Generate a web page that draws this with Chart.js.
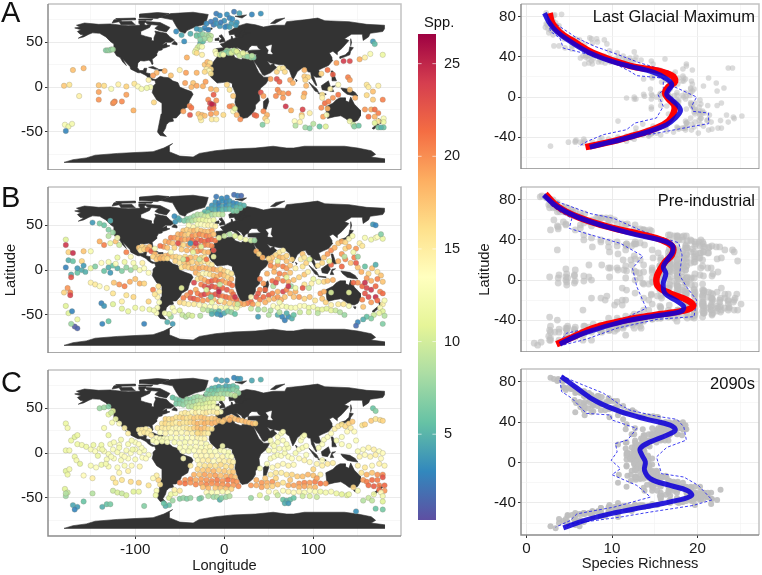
<!DOCTYPE html>
<html lang="en">
<head>
<meta charset="UTF-8">
<title>Species richness</title>
<style>
  body { margin: 0; background: #fff; font-family: "Liberation Sans", Arial, sans-serif; color: #111; }
  canvas { position: absolute; }
  .letter { position: absolute; left: 1px; font-size: 29px; line-height: 29px; }
  .label { position: absolute; font-size: 16.5px; line-height: 20px; white-space: nowrap; }
</style>
</head>
<body>
<canvas id="mapA"></canvas><canvas id="mapB"></canvas><canvas id="mapC"></canvas>
<canvas id="latA"></canvas><canvas id="latB"></canvas><canvas id="latC"></canvas>
<canvas id="colorbar"></canvas>
<div class="letter" style="top:-2px">A</div>
<div class="letter" style="top:183px">B</div>
<div class="letter" style="top:368px">C</div>
<div class="label" style="left:424px;top:12px;font-size:14.7px">Spp.</div>
<div class="label" style="right:7px;top:6px">Last Glacial Maximum</div>
<div class="label" style="right:7px;top:190px">Pre-industrial</div>
<div class="label" style="right:7px;top:373px">2090s</div>

<script src="https://cdn.jsdelivr.net/npm/chart.js@4/dist/chart.umd.min.js"></script>
<script>
// colour scale of the legend, low to high
const spectral = ['#5E4FA2','#3288BD','#66C2A5','#ABDDA4','#E6F598','#FFFFBF','#FEE08B','#FDAE61','#F46D43','#D53E4F','#9E0142'];
const sppRange = [0.37, 26.6];
const sppTicks = [5, 10, 15, 20, 25];

// land outlines, [lon, lat]
const northAmerica = [[-168,66],[-162,67],[-166,69],[-157,71.5],[-141,70],[-128,70.5],[-115,69],[-108,68.5],[-95,69],[-94,72.5],[-88,69],[-82,70],[-84,66.5],[-94,62],[-94,58.5],[-88,56.5],[-82,55],[-82,52],[-79,51.5],[-79,55],[-77,60],[-78,62.5],[-70,61],[-65,60],[-61,56],[-56,52.5],[-60,50],[-66,50],[-70,47],[-65,49],[-65,47],[-61,46],[-66,44],[-70,43],[-70,41.5],[-74,40.5],[-76,37],[-76,35],[-81,31],[-80,26],[-81,25],[-83,29],[-85,30],[-90,29],[-94,29.5],[-97,27],[-98,22],[-95,18.5],[-91,18.5],[-90,21],[-87,21],[-88,16],[-83.5,15],[-83.5,11],[-80,9],[-77,8.5],[-78,7.5],[-81,7.5],[-85,10],[-88,13],[-94,16],[-97,16],[-105,20],[-106,23],[-112,29],[-114,31],[-110,24],[-114,28],[-117,33],[-121,35],[-124,40],[-124,48],[-128,51],[-133,56],[-140,60],[-148,60.5],[-152,59],[-158,56],[-164,54.5],[-158,58],[-162,59],[-165,62],[-161,64]];
const southAmerica = [[-77,8.5],[-72,12],[-68,11],[-62,10.5],[-58,7],[-52,5],[-50,0],[-44,-2.5],[-37,-5],[-35,-8],[-39,-15],[-41,-22],[-48,-26],[-49,-29],[-54,-34.5],[-58,-34.5],[-57,-38],[-62,-39],[-65,-42],[-66,-46],[-69,-51],[-65,-55],[-72,-54],[-75,-50],[-73,-40],[-71,-30],[-70,-18],[-76,-14],[-81,-6],[-80,-2],[-80,1],[-77,4],[-78,7.5]];
const afroEurasia = [[-6,36],[-10,31],[-16,23],[-17,15],[-15,11],[-8,4.5],[-3,5],[4,6],[9,4],[9.5,0],[13,-8],[12,-17],[15,-27],[18,-33],[20,-35],[26,-34],[32,-29],[35,-24],[35,-20],[40,-15],[39,-6],[41,-1],[47,4],[51,11],[44,11],[43,12.5],[39,16],[36,22],[33.5,28],[32.5,30],[34,28],[39,21],[43,14],[45,12.8],[52,16],[59,22],[56.5,24],[56,26.5],[51.5,24.5],[48,29.5],[52,27],[57,26],[62,25],[67,25],[70,21],[73,19],[77,8],[80,13],[82,17],[87,21],[91,22],[94,17],[97,16.5],[98,10],[103,1.5],[104,2],[100,13],[103,11],[109,11],[106,19],[110,21],[117,24],[122,30],[121,33],[118,38],[122,40],[127,36],[127,39],[132,43],[140,52],[135,54],[143,59],[155,59],[156,52],[162,56],[164,60],[178,62],[180,65],[180,69],[160,70],[140,73],[113,74],[105,77],[90,75],[70,73],[68,69],[55,69],[44,67],[35,69.5],[25,71],[15,68],[5,62],[6,58],[11,59],[13,55.5],[20,55],[22,59],[30,60],[22,61],[24,65.5],[18,62],[17,57],[10,54],[8.5,57],[8,54],[2,51],[-1,49],[-4.5,48],[-1,44],[-9,43],[-9,37],[-6,36.5],[-2,37],[3,42],[8,44],[12,42],[16,38],[18,40],[13,45],[19,42],[22,37],[24,40],[27,41],[28,44],[31,46.5],[37,46],[38,44],[41,41.5],[31,41.2],[27,40.5],[27,37],[36,36.5],[35,32],[32,31],[25,32],[20,32],[19,30.5],[12,33],[10,37],[0,36]];
const greenland = [[-73,78],[-60,82],[-35,83.5],[-18,81],[-20,74],[-22,70],[-33,67],[-42,63],[-44,60],[-50,62],[-54,68],[-58,75]];
const australia = [[114,-22],[122,-18],[126,-14],[130,-12],[136,-12],[136,-15],[140,-17],[142,-11],[146,-19],[153,-26],[153,-32],[150,-37],[146,-39],[140,-38],[136,-35],[131,-32],[124,-33],[116,-35],[115,-31]];
const antarctica = [[-180,-84],[-170,-81],[-155,-79],[-145,-76],[-120,-74],[-100,-73],[-80,-72],[-68,-68],[-58,-63],[-62,-66],[-62,-72],[-50,-77],[-35,-78],[-28,-74],[-10,-71],[10,-69],[35,-68],[55,-66],[70,-68],[78,-68],[90,-66],[110,-66],[135,-66],[150,-68],[165,-71],[170,-75],[165,-78],[180,-80],[180,-84]];
const islands = [
  [[-90,73.5],[-72,72],[-61,66.5],[-65,61.5],[-74,63.5],[-78,65.5],[-74,69],[-86,70]],
  [[-118,73],[-104,73.5],[-100,69.5],[-116,69.5]],
  [[-95,77.5],[-75,76.5],[-62,82],[-75,83.2],[-95,81.5]],
  [[-126,71.5],[-115,73.5],[-118,76],[-124,75]],
  [[-96,74],[-88,74],[-90,70.5],[-96,71]],
  [[-96,76],[-80,76],[-82,74.5],[-96,74.8]],
  [[-122,76.5],[-100,77],[-100,75],[-118,74.5]],
  [[-59,48],[-53,47],[-53,49],[-56,51.5]],
  [[-85,22],[-80,23],[-74,20],[-78,20]],
  [[-74,19.5],[-69,19.5],[-69,18.2],[-74,18]],
  [[-5,50],[1,51],[0,54],[-3,58.5],[-6,57],[-3,54],[-5,52]],
  [[-10,52],[-6,52],[-6,55],[-10,54]],
  [[-24,65],[-14,66],[-14,64.5],[-22,63.5]],
  [[12,79],[25,80.5],[20,77]],
  [[52,71],[57,71],[68,77],[58,75.5]],
  [[44,-16],[49,-12],[50,-16],[47,-25],[44,-25]],
  [[80,9],[82,7],[81,6]],
  [[95,5.5],[104,-2],[106,-6],[102,-4.5]],
  [[105,-6.5],[114,-7.5],[114,-8.5],[106,-7.5]],
  [[109,1.5],[117,7],[119,1],[116,-4],[110,-3]],
  [[119,-5],[121,1],[125,1.5],[121,-1],[123,-5]],
  [[131,-1],[141,-2.5],[147,-6],[150,-10],[143,-9],[138,-8],[133,-4]],
  [[120,18],[122,18],[124,12],[126,7],[122,7],[121,13]],
  [[130,32],[136,34],[141,36],[142,40],[145,44],[141,45],[140,40],[136,36],[130,34]],
  [[142,54],[143,50],[142,46]],
  [[145,-41],[148,-41],[147,-43.5]],
  [[173,-35],[178,-38],[175,-41]],
  [[172,-41],[174,-42],[168,-47],[166,-46]]
];
const caspian = [[47,45],[53,47],[52,40],[54,37],[49,37.5],[50,41]];

// sampling sites, [lon, lat, species]
const pointsA = [
[-9,82,2.4],[-5,80,2.9],[3,81,3.2],[11,84,2.3],[17,82.5,4.1],[31,81,2.8],[41,82,3.3],[6,77,2.6],[0,74,3.4],[-10,75,2.7],[-20,71,3.1],[-12,69.5,2.2],[-5,68,3.6],[3,68,2.5],[8,71,3.8],[14,72,3.3],[-22,66,2.9],[-27,64,4.2],[-31,65,3.7],[-54,62,3.1],[-48,58,4.4],[-38,59.5,4.6],[-45,51,3.2],[-27,49,4.5],[-24,51,5.3],[-31,58,5.4],[-18,64,2.6],[-9,71,3.5],[1,67,2.8],[6,67,3.9],[-4,72,2.4],[9,76,3.1],[13,69,3.7],[-15,73,2.3],
[-31,57,6.2],[-27,58,5.7],[-24,59,7.4],[-20,58,8.2],[-17,58,7.6],[-15,57,9.1],[-18,55,8.3],[-22,54,7.7],[-27,53,6.8],[-16,53,9.4],[-30,44,10.6],[-28,46,9.7],[-25,45,12.6],[-32,41,11.3],[-33,39,12.1],
[-133,41,6.6],[-131,41,7.2],[-129,41,7.5],[-127,42,6.9],[-125,42,8.1],
[-10,40,12.8],[-9,37,13.4],[-5,36,10.7],[-3,37,8.6],[0,38,7.8],[3,41,8.3],[6,40,6.9],[9,40,9.7],[12,39,8.8],[15,38,9.4],[18,37,11.2],[20,36,7.6],[23,35,8.4],[25,36,12.3],[28,34,9.2],[30,33,7.7],[33,33,6.8],
[2,39,6.3],[5,38,7.2],[8,38,10.4],[11,41,9.1],[14,40,10.8],[17,35,9.8],[21,38,11.7],[26,34,7.3],[31,35,8.8],[-1,36,12.2],
[-42,33,18.7],[-31,38,16.2],[-25,36,14.6],[-22,25,17.4],[-19,28,18.3],[-16,27,15.6],[-18,23,17.2],[-15,20,16.4],[-20,20,14.8],[-17,18,13.7],[-22,17,16.3],[-15,15,15.8],[-31,16,18.4],[-50,19,14.7],[-43,16,19.3],[-67,18,18.6],[-76,16,18.2],[-80,13,19.4],[-60,13,17.7],[-85,8,14.5],[-83,0,12.6],[-44,4.5,19.2],[-35,4.5,17.6],[-37,0,18.4],[-31,1.5,19.1],[-24,1,18.7],[-21,6,19.4],[-15,-2,18.6],[-9,-3,17.8],[-12,-8.5,22.3],[3,2.6,16.6],[6,-3,15.7],[10,-10,17.3],[9,-21,19.2],[6,-21.5,20.4],[10,-27,13.6],[12,-24,10.7],[14,-31,18.2],[18,-36,20.1],
[-18,-14,20.3],[-9,-15,19.6],[-16,-18,23.4],[-12,-20,24.2],[-16,-23.5,22.7],[-12,-23.5,21.1],[-14,-19,25.2],[-38.5,-31,22.8],[-29,-30,17.6],[-25,-31,18.4],[-22,-32,17.8],[-15,-30,19.6],[-9,-29,18.7],[-1,-31,16.3],[-26,-37,14.6],[-14,-36,15.2],[-9,-36,14.7],[-46,-27,19.3],[-39,-21,20.4],[-37,-23,21.2],[-27,-34,16.4],
[41,-6,22.8],[44,-10,19.4],[44,-27,20.3],[48,-31,18.6],[46,-35,17.2],[48,-38,14.3],[43,-42,6.7],[34,-31,22.4],[36,-32,21.7],[52,9,19.2],[59,9,23.1],[62,6,22.3],[59,17,16.8],[62,21,14.7],[66,21,15.6],[68,17,16.3],[74,8,19.2],[77,4.5,18.6],[60,-3,20.3],[62,-6,19.7],[66,-7,19.2],[72,-7,20.4],[58,-10,20.2],[66,-12,19.6],[69,-21.5,24.3],[75,-26,18.7],[88,-25,23.6],[87,-31,17.7],[96,-29,14.8],[87,-33,14.2],[79,-38,13.6],[85,-39,14.3],[80,-43,8.6],[91,-45,7.7],[96,-46,6.6],[100,-41,8.8],[107,-44,5.7],[114,-44,10.6],[90,12,17.3],[94,11,16.6],[90,19,18.4],[91,8,16.8],[92,1.5,18.2],[90,-7,19.3],[89,-11,17.6],
[109,-23,20.2],[113,-18,21.4],[117,-16,20.6],[122,-12,19.7],[128,-8.5,21.2],[110,-8.5,15.7],[110,-12,14.6],[111,-33,19.3],[115,-31,12.8],[116,-24,18.6],[109,15,16.8],[116,19,21.3],[122,14,22.2],[126,27,19.4],[134,29,24.1],[141,29,23.6],[152,31,18.7],[158,33,14.8],[164,37,12.7],[178,36,11.6],[167,51,3.8],[169,48,5.3],
[139,11,20.7],[141,8,19.6],[128,2.6,13.7],[119,-2,14.6],[141,-3,17.6],[160,2.6,15.6],[173,1.5,14.7],[162,0,15.2],[167,-5,17.8],[147,-12,18.7],[160,-9,16.4],[167,-14,17.2],[178,-14,20.6],[158,-25,19.7],[165,-25,18.8],[169,-25,21.6],[173,-29,20.7],[162,-33,21.3],[169,-33,18.6],[173,-38,15.7],[179,-35,12.8],[179,-39,11.7],[141,-38,12.3],[145,-42,9.6],[146,-44,6.8],[151,-43,5.8],[169,-40,10.7],[173,-45,6.3],[179,-45,5.7],[176,-45,4.9],
[-180,1.5,17.3],[-174,2.6,15.7],[-163,-10,14.6],[-170,19,17.8],[-158,21,18.3],[-141,2,17.6],[-141,-5.5,19.2],[-141,-14,19.8],[-135,1.5,16.2],[-127,-2,12.8],[-119,3,14.6],[-110,0.7,16.8],[-110,-8.5,19.3],[-125,-18,20.3],[-123,-16,20.8],[-124,-17,19.7],[-115,-16,20.2],[-102,-26,18.7],[-101,3.7,15.7],[-97,0.7,13.8],[-93,-2,12.6],[-87,-1,11.7],[-79,-17,16.6],[-179,-42,12.6],[-175,-44,11.7],[-171,-41,12.3],[-178,-49,2.8]
];
const pointsB = [
[-9,82,2.3],[-3,80,3.1],[3,81,2.7],[11,84,1.8],[15,83,2.4],[19,83,1.6],[-10,76,3.3],[-6,75,2.6],[-2,77,3.4],[2,76,2.9],[6,77,3.6],[10,75,2.8],[14,74,3.2],[18,73,4.4],[22,72,4.8],[-14,72,3.4],[-10,71,3.8],[-6,72,2.7],[-2,71,4.3],[2,72,3.1],[6,72,4.2],[10,71,3.7],[14,70,5.2],[18,69,5.7],[-18,68,3.9],[-14,68,4.4],[-10,67,4.8],[-6,68,3.6],[-2,67,5.3],[2,68,4.6],[6,68,5.4],[10,66,6.2],[14,66,6.8],[-22,65,5.3],[-18,64,6.4],
[-42,57,6.7],[-38,58,7.3],[-34,60,7.7],[-30,62,8.4],[-26,62,8.8],[-22,60,9.6],[-18,60,10.3],[-14,62,8.2],[-10,62,9.3],[-6,62,9.8],[-2,62,8.7],[-50,56,4.6],[-45,55,6.3],[-40,54,7.6],[-36,55,8.7],[-32,56,9.6],[-28,56,10.6],[-24,56,11.2],[-20,55,11.6],[-16,55,12.7],[-12,56,11.8],[-55,54,3.6],[-52,58,4.3],[-56,60,3.2],[-30,51,12.6],[-26,51,13.3],[-22,50,13.7],[-18,50,14.4],[-14,50,13.8],[-10,49,14.6],[-35,48,14.2],[-40,50,13.6],
[-46,44,17.6],[-42,45,16.8],[-38,44,17.3],[-34,44,18.4],[-30,45,16.6],[-26,44,17.7],[-22,43,18.2],[-18,43,17.6],[-14,44,18.7],[-52,40,18.3],[-48,40,19.2],[-44,39,17.6],[-40,40,16.7],[-36,38,20.2],[-32,39,18.8],[-28,40,20.4],[-24,39,19.3],[-20,38,20.6],[-16,38,19.7],[-12,40,17.8],[-60,36,20.7],[-56,36,19.8],[-52,35,18.7],[-48,34,20.3],[-44,34,18.6],[-40,34,19.7],[-36,33,21.4],[-30,34,20.6],[-26,33,22.2],[-22,32,21.3],[-18,33,22.6],[-14,34,21.7],[-10,33,20.8],
[-66,32,18.6],[-62,31,19.4],[-58,30,17.7],[-50,29,18.3],[-46,28,16.6],[-40,28,19.2],[-34,27,20.4],[-28,27,21.3],[-22,28,20.7],[-18,28,19.6],[-14,27,20.3],[-68,26,19.8],[-72,27,21.2],[-64,25,17.6],[-56,25,16.8],[-48,23,17.2],[-42,22,18.3],[-36,22,18.8],[-30,21,19.7],[-26,22,20.2],[-22,20,17.6],[-18,20,18.4],
[-96,25,17.6],[-92,26,16.8],[-88,25,17.3],[-84,26,18.2],[-94,22,15.7],[-90,23,16.8],[-86,23,19.6],[-82,21,22.3],[-78,18,18.7],[-74,15,17.6],[-70,15,18.3],[-66,16,17.8],[-62,17,19.2],[-80,15,16.7],[-76,12,17.3],[-72,13,18.4],[-68,13,17.7],[-64,13,16.6],[-58,15,17.2],[-54,15,16.7],[-50,14,15.8],[-44,15,16.4],[-38,14,18.2],[-32,14,17.6],[-26,14,16.8],[-22,14,15.6],
[-55,10,16.7],[-50,8,15.6],[-45,9,17.3],[-40,8,18.2],[-36,9,16.7],[-30,8,17.6],[-26,9,16.3],[-22,10,14.7],[-18,8,15.8],[-14,6,15.2],[-48,3,15.7],[-44,4,17.6],[-40,3,16.8],[-36,2,18.7],[-32,3,17.7],[-28,2,19.3],[-24,3,18.2],[-20,2,18.7],[-16,1,17.8],[-12,1,19.2],[-8,0,18.3],[-4,1,16.6],[0,-1,17.3],[4,-2,14.8],[8,-4,15.7],
[-32,-3,18.6],[-28,-5,16.8],[-24,-4,13.7],[-20,-4,14.3],[-16,-5,15.7],[-12,-6,17.6],[-8,-7,18.2],[-4,-5,19.3],[0,-6,17.7],[4,-8,16.6],[8,-10,18.3],[-30,-10,15.6],[-26,-9,17.7],[-22,-11,18.6],[-18,-13,20.7],[-14,-12,22.3],[-10,-11,20.8],[-6,-13,21.6],[-2,-12,19.7],[2,-14,18.6],[6,-15,20.6],[9,-17,21.2],[-26,-16,20.6],[-22,-18,22.7],[-18,-20,24.3],[-14,-18,23.2],[-10,-19,21.7],[-6,-21,23.6],[-2,-20,21.8],[3,-22,22.6],[8,-24,19.7],[10,-27,21.6],[-32,-22,18.7],[-30,-26,20.6],[-26,-28,22.3],[-22,-27,23.7],[-18,-26,20.8],[-14,-28,21.3],[-10,-27,22.6],[-6,-28,23.2],[-2,-29,20.7],[2,-30,21.6],[6,-31,20.8],[10,-32,19.7],[14,-33,21.8],
[-38,-25,21.6],[-42,-28,19.7],[-46,-31,20.6],[-38,-31,22.3],[-34,-32,22.7],[-30,-33,20.8],[-24,-34,19.6],[-18,-33,19.7],[-12,-33,17.6],[-6,-35,19.7],[0,-36,17.8],[6,-37,16.6],[12,-38,17.3],[18,-39,14.7],
[-50,-36,16.7],[-45,-37,15.6],[-40,-38,14.8],[-34,-38,15.3],[-28,-39,13.8],[-22,-40,12.7],[-16,-41,13.4],[-10,-41,13.7],[-4,-42,12.6],[2,-42,11.8],[8,-43,13.2],[14,-42,11.7],[-24,-44,9.6],[-18,-45,8.7],[-14,-46,6.8],[-10,-47,5.7],[-6,-46,4.8],[-4,-50,2.7],[0,-48,4.6],[4,-46,6.7],[8,-47,7.3],[12,-49,5.6],[-14,-49,4.7],[-8,-49,3.8],[-27,-51,8.7],
[-50,-45,10.7],[-47,-50,9.6],[-43,-52,8.8],[-40,-50,9.7],[-36,-51,10.3],[-60,-52,7.6],[-62,-49,10.6],[-58,-42,12.7],[-56,-46,13.3],[-64,-58,4.7],[-58,-60,3.8],[-67,-48,12.6],[-73,-36,13.2],[-75,-30,14.3],[-73,-24,14.7],[-74,-18,15.8],[-75,-42,12.8],[-76,-48,13.4],
[40,-10,20.7],[44,-15,19.6],[48,-4,18.7],[46,-22,21.7],[40,-22,20.6],[38,-26,22.3],[36,-30,22.8],[30,-35,21.7],[26,-37,20.6],[22,-38,18.8],[18,-37,19.3],[32,-38,19.6],[40,-33,20.7],[44,-30,21.6],[50,-28,22.4],[54,-26,20.7],[50,-33,17.6],[56,-32,18.7],[46,-36,18.6],[38,-38,15.7],[60,-30,19.6],[64,-33,18.8],[68,-30,17.7],[60,-24,18.6],[66,-24,23.6],[70,-22,20.7],[74,-26,18.6],[78,-30,17.7],[84,-30,19.6],[90,-32,16.8],[96,-30,17.7],[102,-34,15.6],[80,-24,18.7],
[52,10,18.6],[54,14,17.7],[58,17,16.6],[62,20,15.7],[66,22,14.8],[62,14,18.7],[66,14,17.6],[70,10,17.8],[60,6,19.7],[56,3,18.8],[52,5,20.3],[66,4,20.7],[70,2,19.6],[74,5,17.7],[76,12,16.6],[70,16,16.8],[56,-2,18.7],[62,-4,20.6],[68,-5,19.7],[74,-3,17.6],[80,2,14.7],[60,-10,19.6],[66,-12,20.7],[54,-12,21.3],[72,-13,18.6],[78,-11,17.7],[84,-8,16.7],[90,-5,17.6],[88,4,15.7],[92,8,16.8],[86,12,14.7],[88,18,17.6],[90,14,15.6],[94,-2,14.7],[100,-10,11.7],[106,-13,12.7],[112,-13,16.6],[116,-12,17.8],[122,-11,18.6],[98,-15,14.6],[90,-16,15.7],
[55,-40,13.6],[60,-42,12.7],[65,-40,13.3],[70,-41,11.8],[75,-42,12.4],[80,-42,12.7],[85,-40,13.6],[90,-40,12.8],[95,-42,11.6],[100,-41,12.7],[105,-44,10.6],[110,-44,11.3],[115,-43,10.7],[120,-45,11.2],[125,-45,9.7],[130,-47,8.6],[52,-45,8.7],[45,-44,9.3],[38,-44,7.8],[30,-43,9.6],[60,-50,4.7],[65,-52,2.8],[68,-56,2.6],[72,-52,3.3],[70,-48,4.8],[76,-54,4.7],[78,-50,5.6],[62,-47,8.7],[85,-47,9.6],[95,-47,10.3],[105,-48,8.8],[135,-50,7.6],[38,-52,3.8],[50,-50,8.6],
[108,-26,19.6],[112,-24,18.7],[110,-32,17.6],[114,-36,16.8],[120,-39,14.7],[128,-38,15.3],[134,-38,15.7],[140,-40,12.8],[105,5,15.7],[110,8,16.6],[112,14,17.7],[116,18,19.6],[120,22,20.3],[124,25,18.7],[128,30,17.6],[132,32,18.8],[136,31,16.7],[140,35,13.8],[144,38,12.7],[136,24,16.6],[140,26,18.7],[132,18,19.7],[136,12,20.4],[128,10,18.6],[142,8,17.7],[146,14,20.6],[148,24,19.7],[152,30,14.7],[155,27,15.4],[158,36,12.6],[165,34,11.7],[170,36,12.8],[178,35,11.6],[172,37,13.3],[167,51,3.7],[170,50,2.8],[176,40,6.7],
[150,3,17.6],[154,-2,18.7],[158,4,5.6],[162,-4,16.7],[166,2,17.8],[170,6,4.7],[172,-2,15.6],[176,-6,17.7],[160,-9,19.6],[165,-12,18.7],[172,-10,20.6],[178,-13,17.6],[150,-14,19.7],[155,-18,21.6],[145,-14,21.8],[160,-20,23.6],[165,-22,24.2],[170,-18,21.7],[175,-24,20.6],[158,-26,22.7],[162,-30,23.6],[170,-30,24.7],[178,-26,21.6],[155,-33,20.7],[165,-36,19.6],[172,-34,21.7],[178,-38,14.7],[180,-34,12.6],[156,-41,17.6],[175,-42,12.7],[178,-46,10.6],[174,-48,11.3],[168,-50,9.7],[160,-52,5.6],[156,-55,4.7],[150,-58,2.8],[148,-62,1.7],[180,-51,8.7],[178,-60,6.6],[165,-54,6.7],
[-178,34,10.6],[-178,28,24.3],[-175,20,16.7],[-170,19,24.7],[-178,3,2.7],[-175,11,4.6],[-170,10,5.7],[-160,10,16.6],[-180,-25,16.7],[-176,-20,19.7],[-173,-25,20.6],[-173,-28,23.7],[-172,-5,4.7],[-165,-3,5.6],[-172,-8,22.8],[-165,2,3.7],[-160,0,4.6],[-158,5,3.8],[-156,-2,4.7],[-150,2,11.6],[-145,4,6.7],[-135,-1,5.7],[-130,3,4.6],[-128,-3,3.7],[-125,5,5.6],[-120,2,4.8],[-115,-1,6.7],[-110,3,7.3],[-105,0,7.6],[-100,3,9.7],[-95,0,12.7],[-90,2,13.3],[-85,-3,13.6],[-138,8,13.7],[-130,9,12.6],[-122,7,13.2],[-112,9,11.7],[-102,8,12.8],[-92,8,14.7],
[-150,-14,14.6],[-145,-16,15.3],[-140,-18,13.7],[-132,-20,14.3],[-124,-14,17.6],[-118,-16,19.7],[-112,-18,20.6],[-106,-13,18.7],[-100,-10,17.6],[-95,-15,18.7],[-90,-15,16.7],[-125,-26,15.6],[-110,-28,15.7],[-102,-30,16.6],[-115,-35,14.7],[-85,-35,16.7],[-80,-22,20.6],[-78,-27,15.7],
[-178,-40,10.7],[-175,-48,10.6],[-171,-46,2.8],[-165,-55,11.6],[-168,-63,0.9],[-165,-65,1.3],[-172,-60,7.6],[-138,-37,2.7],[-135,-40,3.6],[-137,-60,2.8],[-130,-57,5.7],[-125,-38,10.6],[-115,-43,10.7],[-108,-46,11.3],[-100,-42,11.6],[-90,-60,2.7],[-92,-43,12.3],[-84,-44,11.7],[-79,-45,12.4],
[-135,50,5.7],[-128,55,4.6],[-140,52,6.3],[-148,53,3.7],[-130,45,6.7],[-125,42,7.6],[-130,38,8.7],[-122,32,17.6],[-118,28,9.7],[-120,36,12.7],[-128,30,11.6],[-135,28,20.7],[-110,20,20.6],[-105,15,13.7],[-120,14,11.6],[-140,32,18.7],[-150,21,12.7],[-158,21,17.6],
[-6,36,11.7],[0,38,9.6],[6,40,8.7],[12,38,10.6],[18,36,11.7],[24,34,12.3],[30,33,9.6],[34,33,7.7],[36,21,18.6],[39,18,16.8],[43,14,18.7],[50,13,16.6],
[-38,30,3.6],[-28,12,9.6],[-15,-30,6.6],[15,-38,9.6],[55,-18,8.7],[75,-18,7.6],[95,-20,9.2],[135,15,8.8],[150,15,7.3],[-20,-22,10.6],[-5,-16,9.4],[60,10,10.7],[80,-20,11.6],[-35,20,11.3],[-12,15,12.3],[120,-25,10.3],[140,-25,11.2],
[-52,30,23.2],[-32,30,24.1],[-12,22,22.8],[-42,12,21.6],[-20,12,21.2],[-34,-14,23.6],[-6,-24,25.1],[12,-30,24.3],[58,-14,23.2],[72,-18,24.4],[88,-20,22.6],[132,4,21.7],[148,8,22.4],[158,-14,24.6],[120,6,21.8],[-46,12,9.8],[-26,26,10.7],[-48,-20,11.2],[-14,-36,11.6],[62,-36,12.4],[96,12,10.6],[118,10,11.4],[145,20,12.2],[-78,24,12.6],[-4,-34,13.2],[30,-30,13.7],[70,-8,11.2],[-60,20,13.3]
];
const pointsC = [
[-9,82,3.8],[-3,81,4.2],[3,81,3.6],[11,84,2.8],[15,83,3.2],[18,83,3.7],[31,81,4.3],[41,82,4.6],[-14,72,4.6],[-10,73,5.3],[-6,74,4.4],[-2,73,5.2],[2,75,4.3],[6,74,4.8],[10,75,5.4],[14,73,5.7],[-18,70,5.8],[-14,69,6.3],[-10,69,5.7],[-6,70,6.4],[-2,70,6.8],[2,70,6.2],[6,70,5.9],[10,71,6.7],[14,69,7.3],[16,67,7.6],[-20,66,6.7],[-16,65,7.3],[-12,66,6.8],[-8,65,7.7],[-4,66,8.3],[0,66,7.6],[4,66,8.4],[8,65,8.8],[12,64,9.6],
[-58,62,5.6],[-54,60,6.2],[-50,59,5.8],[-46,58,6.7],[-42,60,7.3],[-38,60,6.8],[-34,62,7.4],[-30,63,7.7],[-26,62,8.3],[-54,55,6.3],[-50,55,6.8],[-46,54,7.2],[-42,56,7.7],[-38,56,8.3],[-34,57,7.8],[-30,58,8.7],[-26,58,9.2],[-22,60,8.6],[-18,60,9.3],[-14,61,9.7],[-10,61,10.2],[-6,61,9.8],[-2,61,10.6],[-40,52,8.7],[-36,52,9.2],[-32,53,9.7],[-28,54,10.3],[-24,54,9.8],[-20,55,10.4],[-16,56,10.7],[-12,56,11.3],[-32,50,10.8],[-28,50,11.3],[-24,50,11.7],[-20,51,12.3],[-16,51,11.8],[-12,52,12.4],[-8,50,12.7],[-4,46,13.2],
[-48,44,14.7],[-44,45,15.3],[-40,44,14.8],[-36,46,13.8],[-32,45,15.2],[-28,46,13.7],[-24,45,14.6],[-20,45,15.4],[-16,46,14.3],[-12,46,14.8],[-8,45,15.3],[-66,38,16.6],[-62,38,15.8],[-58,38,16.7],[-54,40,15.7],[-50,40,16.3],[-46,39,16.8],[-42,39,15.7],[-38,40,16.2],[-34,39,17.3],[-30,40,16.7],[-26,40,17.4],[-22,39,17.8],[-18,38,16.8],[-14,39,17.2],[-10,38,17.6],[-70,33,15.7],[-66,33,16.4],[-62,32,15.2],[-58,33,15.8],[-54,34,14.7],[-50,33,16.3],[-46,34,15.4],[-42,34,15.7],[-38,34,16.4],[-34,34,17.2],[-30,33,18.3],[-26,34,17.6],[-22,33,18.7],[-18,34,17.8],[-14,33,18.6],[-10,34,18.3],
[-6,36,17.7],[0,37,18.2],[4,39,17.6],[8,40,18.3],[12,38,17.8],[16,37,18.4],[20,36,17.6],[24,35,18.2],[28,34,17.7],[32,33,18.3],[35,33,16.8],[-2,35,17.2],[6,37,18.6],
[-75,28,14.7],[-70,28,15.3],[-66,27,14.8],[-62,28,15.2],[-58,27,13.7],[-54,28,14.3],[-50,27,13.8],[-46,28,14.6],[-42,28,15.3],[-38,27,15.7],[-34,28,16.8],[-30,28,17.7],[-26,27,18.2],[-22,28,17.6],[-18,27,16.7],[-14,27,15.8],[-72,23,13.6],[-66,22,14.3],[-60,23,13.7],[-54,22,14.2],[-48,23,13.8],[-42,22,14.4],[-36,22,14.7],[-30,23,15.8],[-26,22,16.6],[-22,22,15.7],[-18,22,14.8],
[-96,26,14.7],[-92,26,15.3],[-88,27,14.8],[-84,25,15.2],[-94,22,14.6],[-90,23,15.4],[-86,22,14.7],[-82,20,15.2],[-76,17,13.7],[-72,16,13.2],[-68,16,12.8],[-64,16,13.3],[-60,17,12.7],[-54,17,13.3],[-48,17,12.8],[-42,17,13.4],[-36,17,13.7],[-30,17,14.3],[-26,16,13.8],[-22,16,14.4],[-80,14,12.7],[-76,12,13.3],[-70,13,12.6],[-64,12,13.2],[-56,12,12.8],[-50,11,13.3],[-44,12,12.6],[-38,12,13.7],[-32,12,13.2],[-26,11,13.8],[-20,10,12.7],
[-50,6,12.8],[-44,7,13.3],[-38,6,12.6],[-32,7,13.7],[-26,6,12.8],[-20,6,13.6],[-16,7,14.2],[-46,2,13.2],[-40,2,12.7],[-34,3,13.4],[-28,2,13.8],[-22,2,14.3],[-16,2,12.8],[-10,2,13.2],[-4,3,12.7],[0,2,13.4],[5,1,12.6],[-32,-3,13.7],[-26,-3,14.2],[-20,-3,13.8],[-14,-3,14.4],[-8,-3,13.7],[-2,-4,14.3],[4,-3,12.8],[8,-4,13.6],[-30,-8,13.8],[-24,-8,14.7],[-18,-8,15.2],[-12,-9,13.7],[-6,-8,14.4],[0,-9,14.7],[6,-9,15.3],[10,-10,14.6],[-28,-13,14.7],[-22,-14,15.6],[-16,-14,16.2],[-10,-14,15.7],[-4,-13,16.3],[2,-15,15.8],[8,-15,16.4],[-30,-18,16.7],[-24,-19,17.2],[-18,-19,17.7],[-12,-20,18.3],[-6,-19,16.8],[0,-20,17.3],[6,-21,16.7],[10,-21,17.4],
[-34,-24,18.6],[-28,-24,17.7],[-22,-24,19.2],[-16,-25,18.7],[-10,-25,19.3],[-4,-25,17.8],[2,-26,18.6],[8,-26,19.2],[12,-27,17.7],[-44,-30,19.7],[-38,-29,20.3],[-32,-30,18.8],[-26,-29,19.3],[-20,-30,19.7],[-14,-31,20.3],[-8,-30,20.7],[-2,-31,19.8],[4,-30,21.2],[10,-31,20.4],[14,-32,19.7],[-50,-33,20.7],[-44,-34,21.2],[-38,-33,19.8],[-32,-35,20.3],[-26,-34,19.7],[-20,-35,20.4],[-14,-34,19.8],[-8,-35,20.3],[-2,-35,19.7],[4,-36,20.4],[10,-36,19.6],[16,-37,20.3],[-24,-38,17.7],[-18,-39,18.3],[-10,-39,17.6],[-4,-39,18.2],[2,-40,17.8],[8,-40,16.8],
[-20,-44,13.7],[-14,-44,12.8],[-8,-44,13.3],[-2,-43,12.7],[4,-44,13.4],[-18,-48,8.7],[-12,-49,7.8],[-8,-49,8.3],[-5,-52,4.8],[-3,-50,6.7],[2,-49,7.7],[6,-48,8.4],[-26,-50,6.7],[-28,-51,6.2],[-50,-51,6.8],[-46,-50,7.3],[-42,-51,6.6],[-38,-50,7.4],[-62,-50,10.7],[-60,-46,11.6],[-55,-45,12.3],[-56,-41,14.7],[-50,-42,15.3],[-62,-58,5.7],[-66,-59,4.8],[-58,-53,7.7],[-68,-56,5.6],[-72,-35,15.7],[-74,-30,16.6],[-76,-25,14.8],[-76,-42,12.7],[-77,-47,11.8],
[36,-30,18.7],[42,-33,19.6],[48,-33,18.8],[54,-32,19.7],[60,-35,17.6],[66,-33,15.8],[30,-36,19.7],[36,-36,18.8],[42,-38,19.3],[48,-37,17.7],[54,-37,16.8],[72,-36,18.7],[78,-36,19.2],[84,-34,19.7],[90,-33,20.3],[96,-33,19.6],[102,-32,20.7],[108,-34,21.2],[114,-34,19.8],[84,-38,18.7],[90,-37,19.2],[96,-38,17.8],[102,-38,18.3],
[40,-17,12.8],[48,-12,13.3],[52,-6,12.7],[56,-4,13.2],[60,-2,12.6],[64,-3,13.3],[68,0,12.8],[72,-4,13.4],[54,-16,13.7],[60,-14,14.3],[66,-12,13.8],[72,-14,14.2],[78,-13,13.7],[52,-24,14.7],[58,-22,15.3],[64,-22,14.8],[70,-24,15.7],[76,-24,16.6],[82,-26,17.2],[88,-26,17.8],[94,-24,18.2],[100,-25,17.7],[50,3,12.7],[56,3,13.3],[62,5,12.8],[68,5,13.2],[72,6,12.6],[54,10,13.3],[60,12,12.7],[66,14,13.4],[70,10,12.8],[60,18,13.3],[64,22,12.7],[66,24,13.4],[52,14,12.8],[84,4,13.2],[88,6,12.7],[92,8,13.4],[86,14,12.8],[88,18,13.3],[90,20,12.7],[84,-6,13.7],[90,-8,14.3],[96,-10,13.8],[104,-12,14.4],[80,0,12.6],[92,-2,13.2],[110,-14,14.7],[116,-12,15.3],[122,-11,14.8],
[50,-43,13.7],[58,-44,12.8],[66,-42,13.6],[72,-43,14.2],[78,-44,13.7],[84,-43,14.3],[90,-44,12.8],[96,-42,13.3],[102,-43,12.7],[108,-43,11.8],[114,-44,12.3],[120,-43,12.7],[126,-45,11.7],[132,-46,10.8],[40,-47,10.7],[48,-50,8.7],[66,-52,5.7],[70,-53,4.8],[74,-52,5.3],[78,-50,5.7],[68,-56,4.6],[72,-56,3.8],[60,-47,9.6],[88,-48,9.7],[96,-48,10.3],[104,-49,9.6],[138,-47,10.7],[30,-50,7.6],
[108,-24,14.7],[110,-8,13.6],[106,6,12.7],[110,10,13.3],[112,15,12.8],[116,18,13.4],[120,22,13.7],[124,27,14.7],[128,30,15.3],[132,32,15.8],[136,30,16.3],[140,33,16.8],[144,35,17.3],[138,24,13.8],[132,18,13.2],[126,14,12.7],[132,10,13.3],[140,8,12.8],[148,14,13.2],[146,24,13.7],[142,28,14.8],[155,31,15.7],[158,32,16.8],[165,36,17.2],[170,38,15.8],[175,37,16.3],[178,36,16.7],[167,50,5.7],[170,47,6.8],
[150,2,12.7],[156,4,13.6],[162,6,14.2],[168,4,14.7],[174,2,13.3],[178,0,13.7],[152,-4,14.2],[158,-2,13.8],[164,-4,14.3],[170,-2,14.7],[176,-6,13.8],[150,-14,14.7],[158,-16,15.3],[166,-14,13.8],[174,-12,14.6],[180,-14,14.2],[154,-22,15.7],[160,-24,18.7],[166,-22,17.6],[172,-24,19.7],[178,-24,20.3],[156,-30,19.6],[160,-32,20.7],[166,-30,21.6],[172,-30,20.8],[178,-27,22.7],[162,-36,21.6],[168,-37,22.3],[174,-36,20.7],[180,-36,21.7],[174,-41,21.6],[180,-42,19.7],[176,-44,13.7],[168,-46,11.8],[178,-48,12.3],[162,-50,9.6],[156,-53,8.7],[166,-53,9.2],[178,-54,10.7],[148,-65,3.4],[170,-62,5.7],[178,-63,6.2],[145,-38,16.7],[150,-42,12.7],[140,-46,11.6],
[-178,33,11.6],[-176,28,12.3],[-178,3,11.7],[-174,3,12.2],[-172,14,11.6],[-168,18,10.7],[-165,10,11.8],[-160,9,12.2],[-155,7,11.7],[-150,4,12.6],[-145,2,13.2],[-140,5,12.7],[-135,2,13.3],[-130,-1,12.6],[-125,4,13.2],[-120,1,12.7],[-115,-2,13.3],[-110,3,12.8],[-105,0,13.4],[-100,4,12.7],[-95,1,13.3],[-90,3,12.8],[-85,-2,13.2],[-142,-3,11.7],[-132,-7,12.7],[-124,-6,13.2],[-116,-8,12.8],[-108,-6,13.3],[-100,-7,12.7],[-92,-5,13.4],[-138,9,11.8],[-128,10,12.6],[-118,9,13.3],[-108,10,12.7],[-100,12,13.2],[-168,-4,11.7],[-166,-8,12.3],[-162,-12,10.8],[-178,-20,10.7],[-176,-24,11.7],[-174,-18,12.2],
[-150,-14,12.7],[-144,-16,13.3],[-138,-13,11.8],[-130,-15,12.7],[-120,-16,13.3],[-112,-14,12.8],[-104,-14,13.7],[-95,-15,14.2],[-158,-25,13.7],[-148,-28,14.7],[-125,-28,15.3],[-115,-30,15.7],[-105,-32,16.3],[-96,-33,16.8],[-122,-33,15.6],[-80,-28,13.8],[-85,-36,15.7],
[-179,-40,10.7],[-176,-44,9.6],[-178,-48,7.7],[-165,-60,3.8],[-170,-58,4.3],[-168,-63,2.8],[-158,-54,5.7],[-137,-60,4.7],[-132,-57,5.6],[-128,-57,6.3],[-125,-42,9.7],[-120,-44,10.3],[-115,-45,9.6],[-110,-47,10.2],[-102,-43,10.7],[-96,-43,11.3],[-90,-59,6.7],[-148,-45,8.7],
[-140,50,7.6],[-135,51,7.8],[-130,52,6.7],[-125,47,10.7],[-130,43,11.3],[-127,45,9.7],[-122,38,11.7],[-126,34,12.7],[-118,33,13.6],[-112,28,14.7],[-108,22,14.8],[-104,14,12.7],[-135,28,12.6],[-130,20,11.7],[-165,20,11.6],[-178,-45,8.7],
[-137,4,12.2],[-127,-4,13.1],[-118,6,12.4],[-112,-4,13.6],[-103,4,12.1],[-93,6,13.2],[-88,-6,13.6],[-147,9,11.7],[-124,12,12.8],[-116,15,12.3],[-96,10,13.6],[-133,-12,12.2],[-108,-20,14.6],[-118,-22,14.1],[-46,-6,13.6],[-38,-14,15.1],[-2,8,12.6],[-30,22,16.2],[58,-28,16.6],[74,-30,17.6],[46,-28,17.2],[56,8,12.9],[76,-6,13.4],[100,-18,16.6],[104,-28,19.2]
];

// curves, [species, lat]
const redA = [[2.7,83.7],[3,73.8],[3.9,64.5],[5.5,55.5],[7.8,44],[12.1,31],[15.2,26.6],[17,21.3],[17.4,15.6],[16.6,10],[16.2,4],[16.6,-1.7],[17.3,-8.6],[17.2,-16],[16.6,-24],[15.2,-31],[12.9,-37.5],[10.2,-44],[6.9,-50]];
const blueA = [[2.1,83.7],[2.6,75],[3.5,65.5],[5.1,55.5],[7.4,44],[9.8,36],[12.1,30.6],[14.9,24.6],[16.4,18],[17,12.3],[16.6,6.6],[16.4,2.3],[17,-2.7],[17.8,-9.3],[18,-14.3],[17.4,-21],[16.4,-27.6],[14.1,-35],[11.3,-41.9],[9.4,-45.8],[7.4,-50]];
const upperA = [[3,75.4],[5.9,58.8],[8,50.5],[10.2,43.9],[13.3,33.9],[16.7,25.6],[17.2,10.6],[19.9,0],[19.3,-9.3],[19.5,-14.3],[21.3,-16],[21.3,-26.6],[19.5,-29.2],[16.4,-34.2],[13.3,-39.2],[11,-44.2],[7.8,-49.2]];
const lowerA = [[2.6,73.8],[2.8,65.4],[3.9,58.8],[4.3,48.8],[7.4,42.2],[9.4,37.2],[12.1,25.6],[12.9,21.3],[16,18.9],[16,7.3],[15.4,2.3],[16,-9.3],[15.2,-20.9],[12.7,-25.9],[11.7,-32.6],[9,-37.5],[7.1,-44.2],[6.1,-49.2]];
const redB = [[2.2,85.7],[3.7,73],[6.1,62.5],[9.8,52.5],[13.3,45.8],[15.8,40],[17.1,33],[17,25],[16.2,18],[15.6,10],[15.2,1.7],[15.4,-6.6],[16.8,-13.3],[18.8,-20],[19.5,-26],[18.4,-30.6],[14.9,-35],[11.3,-40.5],[7.8,-48],[5.5,-56.5],[3.5,-64]];
const blueB = [[2,84.7],[3.6,73],[5.9,63],[9.4,53],[12.9,45],[15.6,40],[17,35],[17.1,28],[16.6,21.6],[16,13.3],[16.3,6.6],[16,-3.3],[16.2,-13.3],[17.4,-20],[18.4,-26.6],[18,-31.6],[14.9,-36],[11.3,-41.5],[7.8,-50],[5.7,-56.5],[3.9,-64]];
const upperB = [[3,79.7],[4.7,74.8],[7.4,66.4],[10.2,61.5],[13.3,49.8],[15.2,43.9],[17.8,37.2],[18.2,24.9],[17.9,5],[18.7,-6.6],[19.9,-20],[19.6,-36.5],[15.3,-39.2],[10.6,-48],[7,-59],[4.3,-64.8]];
const lowerB = [[2.8,74.8],[3.9,68],[5.3,61.5],[5,51.5],[7.6,44.9],[11,36.5],[13.6,23.9],[12.4,11.6],[12.9,-6.6],[14,-28.2],[11.9,-36.5],[7.4,-48],[4.7,-53],[3.7,-63]];
const blueC = [[4.05,85.4],[5.9,73.8],[8.2,60.5],[11,50.5],[14.1,42.9],[16.8,37.2],[17.4,32.2],[16.4,27.2],[14.5,20.6],[13.3,14],[13.5,7.3],[13.9,0.7],[13.8,-7.6],[14.5,-16],[16.8,-22.6],[18.8,-27.6],[19.3,-32.6],[17.6,-37.5],[13.7,-44.2],[10.2,-50],[7,-56.8],[4.3,-64.8]];
const upperC = [[4.1,86],[5.9,79.4],[9,68.8],[11,57],[12.1,52],[15.2,46],[17.6,42.9],[18.4,35.5],[18.7,22.3],[16.4,15],[15.2,5.6],[15.8,-11],[18.4,-14.3],[20.1,-22.6],[21.7,-37],[19.5,-42.5],[14.5,-49],[11,-54],[5.1,-60.8],[4.5,-65]];
const lowerC = [[3.9,82],[4.1,70.4],[5.3,63.8],[7,48.8],[9.8,47.2],[10,42.2],[12.9,33.9],[11.8,22.3],[10.4,18.9],[10.6,10.6],[9.9,2.3],[11,-6],[10,-12],[12.9,-22.6],[14.5,-34.2],[10.2,-44.2],[5.9,-50.8],[5.1,-57.5],[3.4,-64]];

function hexToRgb(h) {
  return [parseInt(h.slice(1,3),16), parseInt(h.slice(3,5),16), parseInt(h.slice(5,7),16)];
}
function sppColor(v) {
  var t = (v - sppRange[0]) / (sppRange[1] - sppRange[0]) * (spectral.length - 1);
  t = Math.max(0, Math.min(spectral.length - 1.001, t));
  var i = Math.floor(t), f = t - i;
  var a = hexToRgb(spectral[i]), b = hexToRgb(spectral[i + 1]);
  return 'rgba(' + Math.round(a[0]+(b[0]-a[0])*f) + ',' + Math.round(a[1]+(b[1]-a[1])*f) + ',' + Math.round(a[2]+(b[2]-a[2])*f) + ',0.9)';
}
function xy(list) { return list.map(p => ({ x: p[0], y: p[1] })); }
function noPad(s) { s.paddingTop = 0; s.paddingBottom = 0; s.paddingLeft = 0; s.paddingRight = 0; }

// border all the way round every panel
const panelFrame = {
  id: 'panelFrame',
  afterDraw(chart) {
    const a = chart.chartArea, c = chart.ctx;
    c.save();
    c.lineWidth = 1.5;
    c.strokeStyle = '#c2c2c2';
    c.beginPath(); c.moveTo(a.left, a.top); c.lineTo(a.right, a.top); c.lineTo(a.right, a.bottom); c.stroke();
    c.strokeStyle = '#8c8c8c';
    c.beginPath(); c.moveTo(a.left, a.top); c.lineTo(a.left, a.bottom); c.lineTo(a.right, a.bottom); c.stroke();
    c.restore();
  }
};

function axis(range, step, major, show, title, extent) {
  return {
    type: 'linear', min: range[0], max: range[1],
    border: { display: false },
    grid: {
      color: c => c.tick && c.tick.value % major === 0 ? '#ebebeb' : '#f4f4f4',
      lineWidth: c => c.tick && c.tick.value % major === 0 ? 1 : 0.7,
      tickColor: c => c.tick && c.tick.value % major === 0 ? '#333' : 'rgba(0,0,0,0)',
      tickLength: 3,
      drawTicks: show
    },
    ticks: {
      display: show, stepSize: step, includeBounds: false, autoSkip: false, maxRotation: 0, padding: 2,
      color: '#1a1a1a', font: { size: 15.2, family: '"Liberation Sans"' },
      callback: v => v % major === 0 ? v : ''
    },
    title: { display: !!title, text: title || '', color: '#1a1a1a', padding: { top: 2, bottom: 0 }, font: { size: 14.7, family: '"Liberation Sans"' } },
    afterFit: s => { noPad(s); if (s.isHorizontal()) s.height = extent; else s.width = extent; }
  };
}

function makePanel(id, left, plot, xAxis, yAxis, bottom, datasets) {
  const el = document.getElementById(id);
  el.width = plot.right - left + 3;
  el.height = plot.bottom - plot.top + 4 + bottom;
  el.style.left = left + 'px';
  el.style.top = (plot.top - 4) + 'px';
  return new Chart(el, {
    type: 'scatter',
    data: { datasets: datasets },
    options: {
      responsive: false, animation: false,
      layout: { padding: { top: 4, right: 3, left: 0, bottom: 0 }, autoPadding: false },
      plugins: { legend: { display: false }, tooltip: { enabled: false } },
      scales: { x: xAxis, y: yAxis }
    },
    plugins: [panelFrame]
  });
}

function landSet(list, color, order) {
  return { data: xy(list.concat([list[0]])), showLine: true, fill: 'shape', tension: 0, pointRadius: 0,
           borderWidth: 0.6, borderColor: color, backgroundColor: color, order: order };
}
function mapSets(points) {
  const land = [northAmerica, southAmerica, afroEurasia, greenland, australia, antarctica].concat(islands);
  const sets = [{
    data: points.map(p => ({ x: p[0], y: p[1] })),
    pointRadius: 2.7, pointBorderWidth: 0.5, pointBorderColor: 'rgba(130,130,110,0.55)',
    pointBackgroundColor: points.map(p => sppColor(p[2])), order: 1
  }, landSet(caspian, '#ffffff', 2)];
  land.forEach(l => sets.push(landSet(l, '#333333', 3)));
  return sets;
}
function lineSet(list, color, width, order, dash) {
  return { data: xy(list), showLine: true, tension: dash ? 0 : 0.4, pointRadius: 0, borderColor: color,
           borderWidth: width, borderDash: dash || [], order: order, borderCapStyle: 'butt' };
}
function cloudSet(points, color, radius) {
  return { data: points.map(p => ({ x: p[2], y: p[1] })), pointRadius: radius, pointBorderWidth: 0,
           pointBackgroundColor: color, order: 9 };
}

const lonRange = [-198, 198.5], mapLat = [-92.5, 92.7];
const sppAxis = [-0.65, 27.2], latAxis = [-71.8, 92.8];
const blue = 'rgba(15,0,215,0.88)', red = '#ff0000', dashBlue = '#2a2af0';

makePanel('mapA', 0, { right: 401, top: 4, bottom: 170 }, axis(lonRange, 50, 100, false, '', 0), axis(mapLat, 25, 50, true, '', 48), 0, mapSets(pointsA));
makePanel('mapB', 0, { right: 401, top: 187, bottom: 353 }, axis(lonRange, 50, 100, false, '', 0), axis(mapLat, 25, 50, true, 'Latitude', 48), 0, mapSets(pointsB));
makePanel('mapC', 0, { right: 401, top: 370, bottom: 536 }, axis(lonRange, 50, 100, true, 'Longitude', 39), axis(mapLat, 25, 50, true, '', 48), 39, mapSets(pointsC));

makePanel('latA', 474, { right: 759, top: 4, bottom: 169 }, axis(sppAxis, 5, 10, false, '', 0), axis(latAxis, 20, 40, true, '', 47), 0, [
  lineSet(blueA, blue, 5, 1), lineSet(redA, red, 6.5, 2),
  lineSet(upperA, dashBlue, 0.9, 3, [3, 2]), lineSet(lowerA, dashBlue, 0.9, 3, [3, 2]),
  cloudSet(pointsA, 'rgba(190,190,190,0.55)', 2.8)
]);
makePanel('latB', 474, { right: 759, top: 187, bottom: 352 }, axis(sppAxis, 5, 10, false, '', 0), axis(latAxis, 20, 40, true, 'Latitude', 47), 0, [
  lineSet(blueB, blue, 5, 1), lineSet(redB, red, 6.5, 2),
  lineSet(upperB, dashBlue, 0.9, 3, [3, 2]), lineSet(lowerB, dashBlue, 0.9, 3, [3, 2]),
  cloudSet(pointsB, 'rgba(190,190,190,0.65)', 3.4)
]);
makePanel('latC', 474, { right: 759, top: 369, bottom: 535 }, axis(sppAxis, 5, 10, true, 'Species Richness', 38), axis(latAxis, 20, 40, true, '', 47), 38, [
  lineSet(blueC, blue, 5, 1),
  lineSet(upperC, dashBlue, 0.9, 3, [3, 2]), lineSet(lowerC, dashBlue, 0.9, 3, [3, 2]),
  cloudSet(pointsC, 'rgba(190,190,190,0.9)', 3)
]);

// legend bar
const barTicks = {
  id: 'barTicks',
  afterDatasetsDraw(chart) {
    const a = chart.chartArea, c = chart.ctx, y = chart.scales.y;
    c.save();
    c.strokeStyle = 'rgba(255,255,255,0.8)';
    c.lineWidth = 0.8;
    sppTicks.forEach(v => {
      const p = y.getPixelForValue(v);
      c.beginPath();
      c.moveTo(a.left, p); c.lineTo(a.left + 3.6, p);
      c.moveTo(a.right - 3.6, p); c.lineTo(a.right, p);
      c.stroke();
    });
    c.restore();
  }
};
const barEl = document.getElementById('colorbar');
barEl.width = 55;
barEl.height = 494;
barEl.style.left = '418px';
barEl.style.top = '30px';
new Chart(barEl, {
  type: 'bar',
  data: {
    labels: ['Spp.'],
    datasets: [{
      data: [sppRange],
      barPercentage: 1, categoryPercentage: 1,
      backgroundColor: c => {
        const a = c.chart.chartArea;
        if (!a) return '#ccc';
        const g = c.chart.ctx.createLinearGradient(0, a.bottom, 0, a.top);
        spectral.forEach((s, i) => g.addColorStop(i / (spectral.length - 1), s));
        return g;
      }
    }]
  },
  options: {
    responsive: false, animation: false,
    layout: { padding: { top: 4, bottom: 4 }, autoPadding: false },
    plugins: { legend: { display: false }, tooltip: { enabled: false } },
    scales: {
      x: { display: false },
      y: {
        position: 'right', min: sppRange[0], max: sppRange[1],
        border: { display: false }, grid: { display: false, drawTicks: false },
        ticks: {
          stepSize: 5, includeBounds: false, padding: 8, color: '#1a1a1a',
          font: { size: 14.5, family: '"Liberation Sans"' }
        },
        afterBuildTicks: s => { s.ticks = sppTicks.map(v => ({ value: v })); },
        afterFit: s => { noPad(s); s.width = 37; }
      }
    }
  },
  plugins: [barTicks]
});
</script>
</body>
</html>
